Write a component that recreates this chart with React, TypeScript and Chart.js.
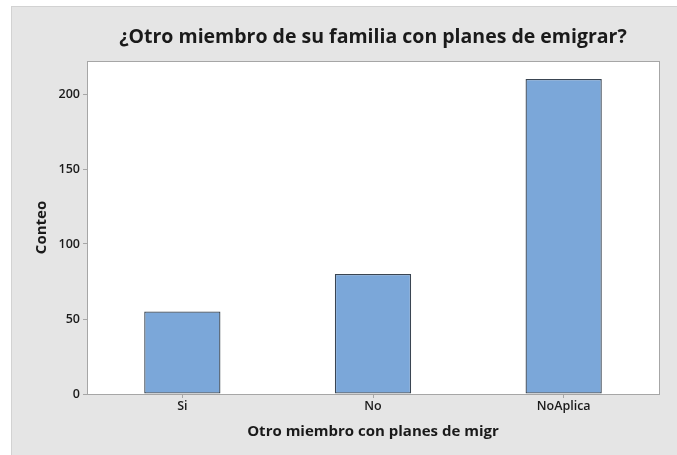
import React, { useEffect, useRef } from "react";
import { Chart, registerables } from "chart.js";

Chart.register(...registerables);

const categories = ["Si", "No", "NoAplica"];
const counts = [55, 80, 210];
const yTicks = [0, 50, 100, 150, 200];
const yMax = 222;
const titleText = "¿Otro miembro de su familia con planes de emigrar?";
const xTitle = "Otro miembro con planes de migr";
const yTitle = "Conteo";

const FONT = "'Open Sans', 'Noto Sans', sans-serif";

const plotBg = {
  id: "plotBg",
  beforeDraw(chart: any) {
    const { ctx, chartArea } = chart;
    ctx.save();
    ctx.fillStyle = "#ffffff";
    ctx.fillRect(chartArea.left, chartArea.top, chartArea.right - chartArea.left, chartArea.bottom - chartArea.top);
    ctx.restore();
  },
  afterDraw(chart: any) {
    const { ctx, chartArea } = chart;
    ctx.save();
    ctx.strokeStyle = "#a6a6a6";
    ctx.lineWidth = 1;
    ctx.strokeRect(
      Math.round(chartArea.left) + 0.5,
      Math.round(chartArea.top) + 0.5,
      Math.round(chartArea.right - chartArea.left),
      Math.round(chartArea.bottom - chartArea.top)
    );
    ctx.restore();
  },
};

export default function App() {
  const ref = useRef<HTMLCanvasElement | null>(null);
  useEffect(() => {
    if (!ref.current) return;
    const chart = new Chart(ref.current, {
      type: "bar",
      data: {
        labels: categories,
        datasets: [
          {
            data: counts,
            backgroundColor: "#7ba7d9",
            borderColor: "#3a4552",
            borderWidth: 1.3,
            borderSkipped: false,
            barPercentage: 0.4,
            categoryPercentage: 1,
          },
        ],
      },
      plugins: [plotBg],
      options: {
        animation: false,
        responsive: false,
        layout: { padding: { left: 17, right: 18, top: 0, bottom: 10 } },
        plugins: {
          legend: { display: false },
          tooltip: { enabled: false },
          title: {
            display: true,
            text: titleText,
            fullSize: false,
            color: "#1a1a1a",
            font: { family: FONT, size: 19.5, weight: "bold" },
            padding: { top: 19, bottom: 11.6 },
          },
        },
        scales: {
          x: {
            grid: { drawOnChartArea: false, drawTicks: true, tickLength: 4, color: "#a6a6a6", offset: false },
            border: { display: false },
            ticks: { color: "#1a1a1a", font: { family: FONT, size: 12.5, weight: 600 }, padding: 1 },
            title: {
              display: true,
              text: xTitle,
              color: "#1a1a1a",
              font: { family: FONT, size: 15, weight: "bold" },
              padding: { top: 4, bottom: 4 },
            },
            afterFit(scale: any) {
              scale.height = 51;
            },
          },
          y: {
            min: 0,
            max: yMax,
            grid: { drawOnChartArea: false, drawTicks: true, tickLength: 4, color: "#a6a6a6" },
            border: { display: false },
            ticks: { color: "#1a1a1a", font: { family: FONT, size: 12.5, weight: 600 }, padding: 3, stepSize: 50 },
            afterBuildTicks(scale: any) {
              scale.ticks = yTicks.map((v) => ({ value: v }));
            },
            title: {
              display: true,
              text: yTitle,
              color: "#1a1a1a",
              font: { family: FONT, size: 15, weight: "bold" },
              padding: { top: 4, bottom: 4 },
            },
            afterFit(scale: any) {
              scale.width = 58;
            },
          },
        },
      },
    } as any);
    return () => chart.destroy();
  }, []);
  return (
    <div
      style={{
        position: "absolute",
        left: 11,
        top: 6,
        width: 666,
        height: 449,
        background: "#e5e5e5",
        borderLeft: "1px solid #d2d2d2",
        borderTop: "1px solid #d2d2d2",
        boxSizing: "border-box",
      }}
    >
      <canvas ref={ref} width={665} height={448} style={{ display: "block" }} />
    </div>
  );
}
